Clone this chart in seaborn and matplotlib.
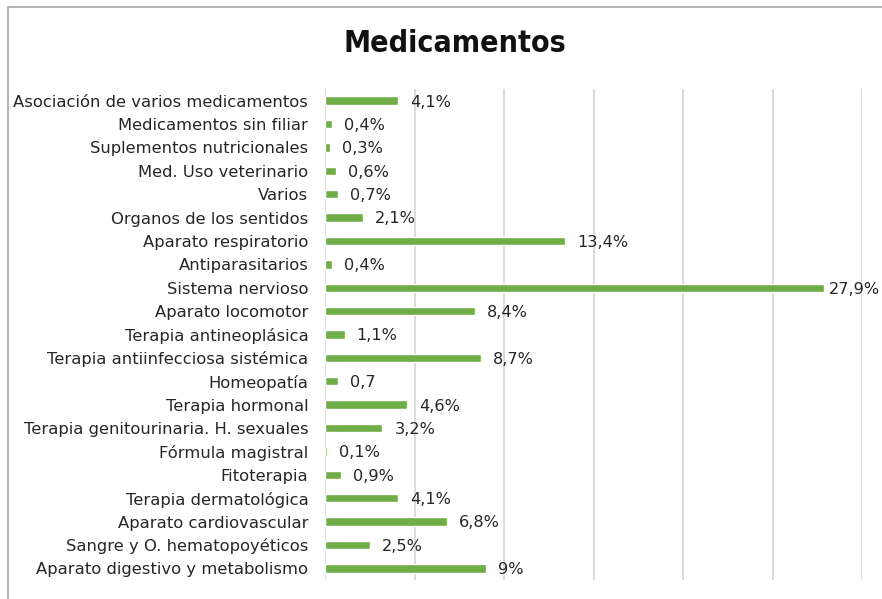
import matplotlib
matplotlib.use("Agg")
import matplotlib.pyplot as plt
import seaborn as sns
import pandas as pd
from matplotlib.patches import Rectangle

categories = [
    "Asociación de varios medicamentos", "Medicamentos sin filiar",
    "Suplementos nutricionales", "Med. Uso veterinario", "Varios",
    "Organos de los sentidos", "Aparato respiratorio", "Antiparasitarios",
    "Sistema nervioso", "Aparato locomotor", "Terapia antineoplásica",
    "Terapia antiinfecciosa sistémica", "Homeopatía", "Terapia hormonal",
    "Terapia genitourinaria. H. sexuales", "Fórmula magistral", "Fitoterapia",
    "Terapia dermatológica", "Aparato cardiovascular",
    "Sangre y O. hematopoyéticos", "Aparato digestivo y metabolismo",
]
values = [4.1, 0.4, 0.3, 0.6, 0.7, 2.1, 13.4, 0.4, 27.9, 8.4, 1.1, 8.7,
          0.7, 4.6, 3.2, 0.1, 0.9, 4.1, 6.8, 2.5, 9]
value_labels = ["4,1%", "0,4%", "0,3%", "0,6%", "0,7%", "2,1%", "13,4%",
                "0,4%", "27,9%", "8,4%", "1,1%", "8,7%", "0,7", "4,6%",
                "3,2%", "0,1%", "0,9%", "4,1%", "6,8%", "2,5%", "9%"]
title = "Medicamentos"

sns.set_theme(style="white")
plt.rcParams['font.family'] = ['DejaVu Sans']

df = pd.DataFrame({"cat": categories, "val": values})

fig = plt.figure(figsize=(8.82, 5.99), dpi=100)
W, H = 882, 599
ax = fig.add_axes([325 / W, 1 - 580 / H, (862 - 325) / W, (580 - 89) / H])

sns.barplot(data=df, x="val", y="cat", color="#70AD47", width=0.36,
            saturation=1, ax=ax, zorder=3)

ax.set_xlim(0, 30)
ax.set_xticks([0, 5, 10, 15, 20, 25, 30])
ax.xaxis.grid(True, color="#D9D9D9", linewidth=1.3, zorder=0)
ax.set_axisbelow(True)
ax.tick_params(axis="x", bottom=False, labelbottom=False)
ax.tick_params(axis="y", left=False, pad=6, labelsize=11.8, labelcolor="#262626")
ax.set_xlabel("")
ax.set_ylabel("")
for s in ax.spines.values():
    s.set_visible(False)

for i, (v, lab) in enumerate(zip(values, value_labels)):
    off = 4 if v > 27 else 12
    ax.annotate(lab, xy=(v, i), xytext=(off * 0.72, -1), textcoords="offset points",
                ha="left", va="center", fontsize=11.6, color="#262626",
                annotation_clip=False)

fig.text(455 / W, 1 - 44 / H, title, ha="center", va="center", fontsize=21.8,
         fontweight="bold", fontstretch="condensed", color="#111111",
         family=['DejaVu Sans'])

fig.patches.append(Rectangle((8 / W, -0.1), 1.2, 1 - 7.5 / H + 0.1,
                             transform=fig.transFigure, fill=False,
                             edgecolor="#A6A6A6", linewidth=1.2))

fig.savefig("out.png", dpi=100)
